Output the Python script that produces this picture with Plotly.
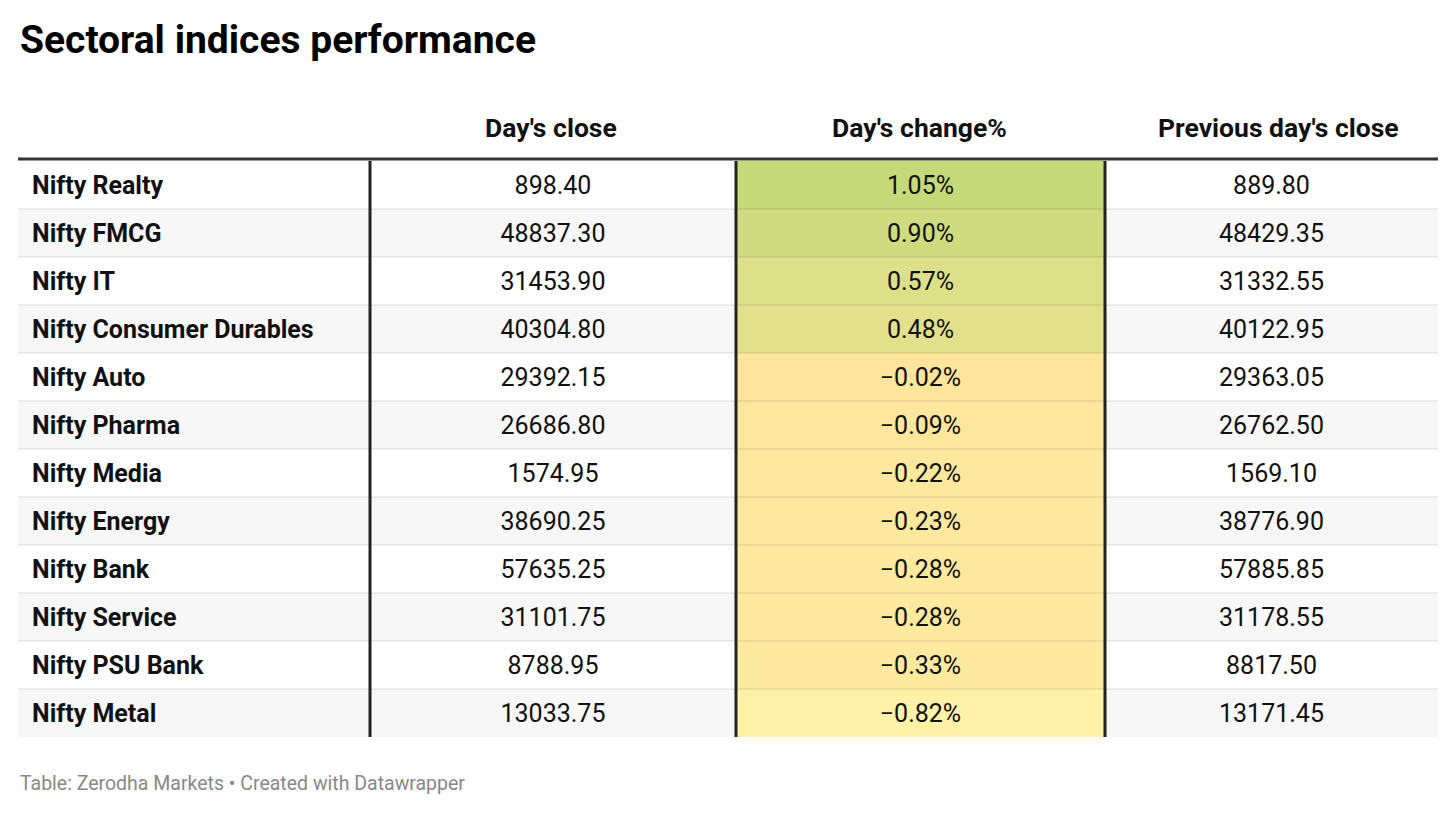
import plotly.graph_objects as go

# ---------------- data ----------------
title = "Sectoral indices performance"
headers = ["", "Day's close", "Day's change%", "Previous day's close"]
sectors = ["Nifty Realty", "Nifty FMCG", "Nifty IT", "Nifty Consumer Durables",
           "Nifty Auto", "Nifty Pharma", "Nifty Media", "Nifty Energy",
           "Nifty Bank", "Nifty Service", "Nifty PSU Bank", "Nifty Metal"]
days_close = ["898.40", "48837.30", "31453.90", "40304.80", "29392.15", "26686.80",
              "1574.95", "38690.25", "57635.25", "31101.75", "8788.95", "13033.75"]
change_pct = [1.05, 0.90, 0.57, 0.48, -0.02, -0.09, -0.22, -0.23, -0.28, -0.28, -0.33, -0.82]
prev_close = ["889.80", "48429.35", "31332.55", "40122.95", "29363.05", "26762.50",
              "1569.10", "38776.90", "57885.85", "31178.55", "8817.50", "13171.45"]
footer = "Table: Zerodha Markets • Created with Datawrapper"

# ---------------- layout constants ----------------
W, H = 1456, 813
FONT = "Roboto"
col_edges = [18, 370, 736, 1105, 1438]
row_top = 161
row_h = 48
n = len(sectors)
row_edges = [row_top + row_h * i for i in range(n + 1)]
text_y = [row_top + row_h * (i + 0.5) + 2.5 for i in range(n)]
col_centers = [(col_edges[i] + col_edges[i + 1]) / 2 for i in range(4)]
header_x = [0, 551, 919, 1278]

vmin, vmax = min(change_pct), max(change_pct)
def pos(v):
    return (v - vmin) / (vmax - vmin)
colorscale = [
    [0.0, "#fff1a6"],
    [pos(-0.02), "#fee59b"],
    [pos(0.48), "#e3e08c"],
    [1.0, "#c6d979"],
]

fig = go.Figure()

shapes = []
# row backgrounds (alternating)
for i in range(n):
    shapes.append(dict(type="rect", xref="x", yref="y",
                       x0=col_edges[0], x1=col_edges[-1],
                       y0=row_edges[i], y1=row_edges[i + 1],
                       fillcolor="#ffffff" if i % 2 == 0 else "#f7f7f7",
                       line=dict(width=0), layer="below"))

# colored column as heatmap
fig.add_trace(go.Heatmap(
    x=[col_edges[2], col_edges[3]],
    y=row_edges,
    z=[[v] for v in change_pct],
    zmin=vmin, zmax=vmax,
    colorscale=colorscale,
    showscale=False, hoverinfo="skip",
))

# row separators
for i in range(1, n):
    shapes.append(dict(type="line", xref="x", yref="y",
                       x0=col_edges[0], x1=col_edges[-1],
                       y0=row_edges[i], y1=row_edges[i],
                       line=dict(color="rgba(0,0,0,0.09)", width=1.5), layer="above"))
# vertical column borders
for xe in col_edges[1:4]:
    shapes.append(dict(type="line", xref="x", yref="y",
                       x0=xe, x1=xe, y0=row_edges[0], y1=row_edges[-1],
                       line=dict(color="#222222", width=3), layer="above"))
# header line
shapes.append(dict(type="line", xref="x", yref="y",
                   x0=col_edges[0], x1=col_edges[-1], y0=159, y1=159,
                   line=dict(color="#333333", width=3), layer="above"))

CELL = 25
# cell text
fig.add_trace(go.Scatter(
    x=[32] * n, y=text_y, text=[f"<b>{s}</b>" for s in sectors],
    mode="text", textposition="middle right",
    textfont=dict(family=FONT, size=CELL, color="#111111"), hoverinfo="skip"))
fig.add_trace(go.Scatter(
    x=[col_centers[1]] * n, y=text_y, text=days_close,
    mode="text", textposition="middle center",
    textfont=dict(family=FONT, size=CELL, color="#111111"), hoverinfo="skip"))
fig.add_trace(go.Scatter(
    x=[col_centers[2]] * n, y=text_y,
    text=[(f"{v:.2f}%" if v >= 0 else f"\u2212{abs(v):.2f}%") for v in change_pct],
    mode="text", textposition="middle center",
    textfont=dict(family=FONT, size=CELL, color="#111111"), hoverinfo="skip"))
fig.add_trace(go.Scatter(
    x=[col_centers[3]] * n, y=text_y, text=prev_close,
    mode="text", textposition="middle center",
    textfont=dict(family=FONT, size=CELL, color="#111111"), hoverinfo="skip"))

annotations = []
# headers
for i in range(1, 4):
    annotations.append(dict(x=header_x[i], y=127, xref="x", yref="y",
                            text=f"<b>{headers[i]}</b>", showarrow=False,
                            xanchor="center", yanchor="middle",
                            font=dict(family=FONT, size=26.5, color="#111111")))
# title
annotations.append(dict(x=18, y=40, xref="x", yref="y", text=f"<b>{title}</b>",
                        showarrow=False, xanchor="left", yanchor="middle",
                        font=dict(family=FONT, size=39, color="#000000")))
# footer
annotations.append(dict(x=18, y=783, xref="x", yref="y", text=footer,
                        showarrow=False, xanchor="left", yanchor="middle",
                        font=dict(family=FONT, size=19.5, color="#888888")))

fig.update_layout(
    width=W, height=H, margin=dict(l=0, r=0, t=0, b=0),
    paper_bgcolor="#ffffff", plot_bgcolor="#ffffff",
    xaxis=dict(range=[0, W], visible=False, fixedrange=True),
    yaxis=dict(range=[H, 0], visible=False, fixedrange=True),
    shapes=shapes, annotations=annotations, showlegend=False,
)

fig.write_html("out.html", config={"displayModeBar": False},
               post_script="document.body.style.margin='0';")
